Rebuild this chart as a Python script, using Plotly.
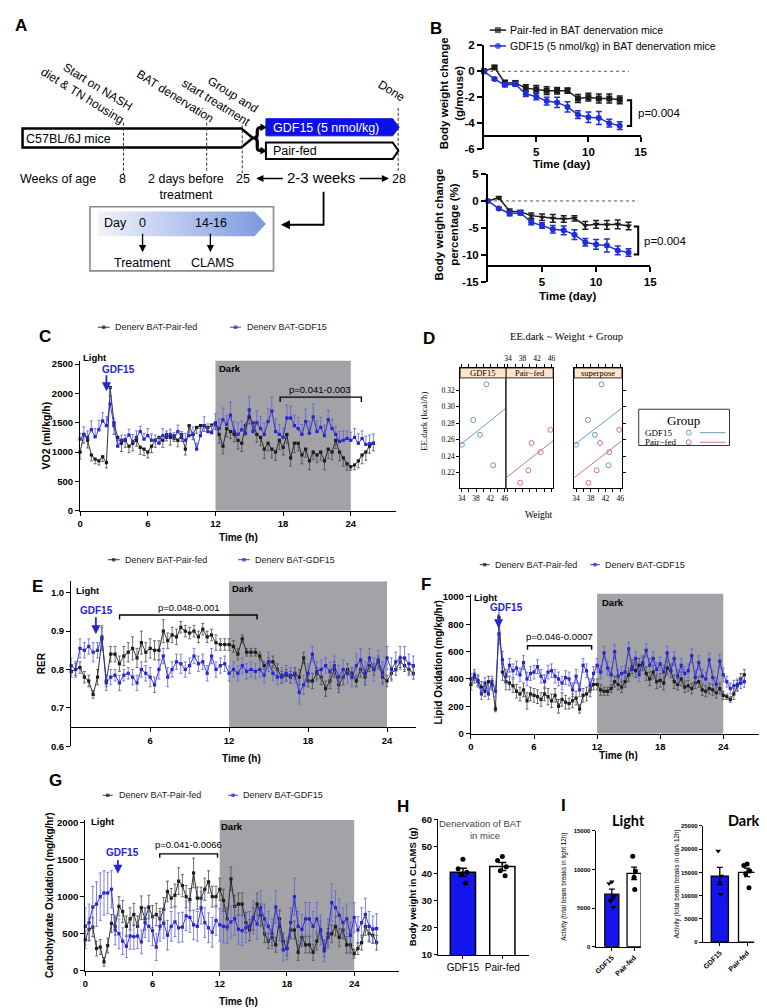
import numpy as np
import plotly.graph_objects as go

# ======================= DATA =======================
# Panel B: body weight change over days of treatment
B_DAYS = [0, 1, 2, 3, 4, 5, 6, 7, 8, 9, 10, 11, 12, 13]
BWG_PAIRFED = [0, 0.3, -0.9, -0.9, -1.3, -1.4, -1.5, -1.5, -1.5, -2.1, -2.0, -2.1, -2.1, -2.2]
BWG_PAIRFED_SEM = [0, 0.1, 0.2, 0.15, 0.25, 0.3, 0.3, 0.25, 0.2, 0.3, 0.3, 0.35, 0.35, 0.3]
BWG_GDF15 = [0, -0.6, -1.05, -1.0, -1.75, -1.95, -2.3, -2.4, -2.75, -3.35, -3.55, -3.6, -4.0, -4.2]
BWG_GDF15_SEM = [0, 0.1, 0.15, 0.15, 0.2, 0.25, 0.3, 0.4, 0.4, 0.3, 0.4, 0.5, 0.3, 0.3]
BWP_PAIRFED = [0, 0.6, -1.9, -2.0, -2.7, -3.0, -3.2, -3.3, -3.2, -4.5, -4.3, -4.4, -4.3, -4.6]
BWP_PAIRFED_SEM = [0, 0.2, 0.4, 0.3, 0.5, 0.6, 0.7, 0.6, 0.5, 0.7, 0.7, 0.8, 0.8, 0.7]
BWP_GDF15 = [0, -1.4, -2.3, -2.2, -3.9, -4.5, -5.2, -5.4, -6.2, -7.6, -8.0, -8.2, -9.1, -9.5]
BWP_GDF15_SEM = [0, 0.2, 0.4, 0.4, 0.5, 0.5, 0.7, 0.8, 0.9, 0.7, 0.9, 1.2, 0.8, 0.7]

# CLAMS recordings: one reading every 20 min, 0 .. 26 h
CLAMS_STEP_H = 1 / 3
CLAMS_N = 79
CLAMS_T = [i * CLAMS_STEP_H for i in range(CLAMS_N)]

# Panel C: VO2 (ml/kg/h)
VO2_PAIRFED = [
    1000, 1300, 1200, 950, 880, 850, 920, 820, 2100,
    1500, 1250, 1150, 1200, 1100, 1150, 1200, 1080, 1050,
    1000, 1100, 1200, 1250, 1200, 1300, 1250, 1280, 1200,
    1300, 1050, 1450, 1300, 1420, 1450, 1450, 1420, 1460,
    1500, 1300, 1100, 1400, 1350, 1300, 1200, 1150, 1450,
    1600, 1500, 1300, 1250, 1050, 1150, 1050, 1000, 1200,
    1080, 1300, 900, 1150, 1150, 950, 1050, 850, 1000,
    950, 1000, 850, 1050, 1000, 1200, 1000, 900, 800,
    750, 780, 850, 950, 1000, 1100, 1150]
VO2_PAIRFED_SEM = [
    120, 150, 130, 100, 80, 70, 80, 90, 150,
    200, 150, 140, 120, 110, 130, 100, 120, 110,
    100, 110, 120, 100, 120, 110, 130, 100, 110,
    120, 100, 110, 90, 100, 110, 100, 90, 100,
    120, 150, 130, 140, 120, 130, 150, 140, 160,
    120, 150, 130, 140, 160, 130, 150, 140, 160,
    130, 150, 140, 160, 130, 150, 140, 150, 130,
    130, 140, 150, 160, 130, 140, 150, 140, 110,
    60, 80, 120, 150, 140, 120, 130]
VO2_GDF15 = [
    1220, 1300, 1250, 1380, 1260, 1380, 1530, 1450, 1820,
    1450, 1100, 1200, 1210, 1290, 1180, 1250, 1350, 1220,
    1280, 1200, 1200, 1150, 1280, 1250, 1300, 1230, 1350,
    1250, 1200, 1280, 1300, 1050, 1280, 1450, 1350, 1330,
    1480, 1400, 1550, 1470, 1630, 1350, 1300, 1380, 1320,
    1720, 1350, 1500, 1400, 1300, 1520, 1700, 1350, 1300,
    1250, 1580, 1580, 1450, 1400, 1300, 1520, 1320, 1600,
    1350, 1420, 1280, 1550, 1400, 1300, 1180, 1200, 1230,
    1200, 1250, 1150, 1230, 1130, 1140, 1150]
VO2_GDF15_SEM = [
    100, 130, 110, 150, 140, 160, 140, 150, 280,
    120, 100, 90, 80, 100, 120, 110, 90, 100,
    120, 110, 90, 100, 120, 110, 90, 100, 110,
    100, 120, 110, 130, 100, 120, 150, 130, 120,
    170, 160, 200, 150, 220, 170, 200, 150, 180,
    230, 170, 200, 210, 190, 220, 240, 210, 170,
    160, 220, 200, 180, 190, 170, 210, 200, 220,
    190, 170, 180, 160, 150, 140, 170, 160, 130,
    140, 150, 160, 130, 140, 150, 160]

# Panel E: RER
RER_PAIRFED = [
    0.795, 0.800, 0.805, 0.780, 0.770, 0.735, 0.780, 0.880, 0.770,
    0.840, 0.840, 0.815, 0.835, 0.845, 0.855, 0.830, 0.870, 0.845,
    0.855, 0.850, 0.850, 0.900, 0.875, 0.890, 0.885, 0.910, 0.900,
    0.895, 0.900, 0.885, 0.905, 0.885, 0.890, 0.870, 0.865, 0.865,
    0.865, 0.860, 0.840, 0.880, 0.845, 0.845, 0.845, 0.835, 0.810,
    0.820, 0.820, 0.800, 0.780, 0.785, 0.780, 0.790, 0.780, 0.830,
    0.770, 0.770, 0.790, 0.780, 0.750, 0.770, 0.800, 0.760, 0.780,
    0.800, 0.790, 0.770, 0.800, 0.780, 0.810, 0.800, 0.820, 0.780,
    0.770, 0.790, 0.800, 0.820, 0.810, 0.800, 0.790]
RER_PAIRFED_SEM = [
    0.015, 0.015, 0.015, 0.015, 0.015, 0.010, 0.020, 0.030, 0.015,
    0.020, 0.020, 0.020, 0.025, 0.025, 0.030, 0.025, 0.030, 0.025,
    0.025, 0.025, 0.025, 0.030, 0.020, 0.020, 0.020, 0.015, 0.015,
    0.015, 0.015, 0.015, 0.015, 0.015, 0.015, 0.020, 0.015, 0.015,
    0.015, 0.015, 0.015, 0.010, 0.010, 0.010, 0.010, 0.010, 0.010,
    0.010, 0.015, 0.015, 0.015, 0.015, 0.015, 0.015, 0.020, 0.015,
    0.015, 0.020, 0.015, 0.020, 0.020, 0.020, 0.020, 0.020, 0.020,
    0.015, 0.015, 0.015, 0.020, 0.020, 0.015, 0.015, 0.015, 0.015,
    0.015, 0.015, 0.015, 0.015, 0.015, 0.015, 0.015]
RER_GDF15 = [
    0.810, 0.800, 0.855, 0.850, 0.860, 0.845, 0.850, 0.885, 0.765,
    0.780, 0.785, 0.765, 0.785, 0.790, 0.780, 0.765, 0.800, 0.790,
    0.780, 0.760, 0.800, 0.835, 0.780, 0.800, 0.820, 0.815, 0.800,
    0.810, 0.835, 0.815, 0.820, 0.790, 0.835, 0.800, 0.810, 0.815,
    0.790, 0.800, 0.790, 0.810, 0.795, 0.800, 0.795, 0.800, 0.785,
    0.820, 0.790, 0.780, 0.785, 0.790, 0.785, 0.785, 0.740, 0.760,
    0.790, 0.840, 0.795, 0.800, 0.810, 0.795, 0.810, 0.780, 0.800,
    0.790, 0.780, 0.810, 0.825, 0.790, 0.830, 0.800, 0.825, 0.790,
    0.830, 0.800, 0.820, 0.830, 0.830, 0.815, 0.810]
RER_GDF15_SEM = [
    0.020, 0.020, 0.025, 0.020, 0.020, 0.025, 0.020, 0.030, 0.020,
    0.020, 0.015, 0.020, 0.015, 0.015, 0.020, 0.020, 0.020, 0.020,
    0.025, 0.020, 0.025, 0.020, 0.025, 0.020, 0.020, 0.025, 0.020,
    0.020, 0.020, 0.020, 0.020, 0.020, 0.020, 0.020, 0.020, 0.020,
    0.020, 0.020, 0.020, 0.020, 0.020, 0.020, 0.020, 0.020, 0.020,
    0.025, 0.020, 0.020, 0.020, 0.020, 0.020, 0.020, 0.030, 0.025,
    0.025, 0.020, 0.025, 0.025, 0.020, 0.025, 0.025, 0.030, 0.025,
    0.025, 0.025, 0.030, 0.030, 0.030, 0.025, 0.030, 0.025, 0.030,
    0.030, 0.030, 0.025, 0.030, 0.030, 0.025, 0.025]

# Panel F: lipid oxidation (mg/kg/hr)
LIPID_PAIRFED = [
    360, 410, 390, 340, 310, 380, 360, 180, 850,
    450, 380, 370, 350, 310, 290, 320, 240, 290,
    280, 270, 250, 290, 270, 240, 280, 200, 250,
    230, 220, 240, 260, 180, 280, 290, 320, 360,
    360, 320, 310, 310, 330, 380, 360, 340, 380,
    430, 490, 460, 500, 510, 440, 400, 450, 380,
    390, 370, 480, 460, 380, 360, 400, 340, 350,
    330, 370, 380, 320, 310, 330, 320, 300, 330,
    280, 270, 250, 290, 350, 400, 430]
LIPID_PAIRFED_SEM = [
    40, 40, 40, 40, 40, 40, 40, 20, 60,
    60, 60, 50, 50, 50, 50, 50, 60, 50,
    50, 50, 50, 50, 60, 50, 50, 50, 50,
    50, 40, 50, 50, 30, 50, 50, 50, 40,
    40, 40, 30, 30, 30, 40, 40, 40, 40,
    50, 50, 50, 50, 50, 50, 50, 50, 50,
    50, 50, 50, 50, 50, 40, 50, 40, 40,
    40, 40, 40, 40, 40, 40, 40, 40, 40,
    30, 20, 20, 40, 40, 40, 40]
LIPID_GDF15 = [
    400, 430, 380, 290, 370, 290, 380, 310, 730,
    540, 420, 500, 460, 480, 430, 520, 400, 440,
    450, 490, 420, 380, 450, 460, 420, 400, 370,
    410, 400, 320, 420, 320, 500, 460, 350, 440,
    500, 450, 590, 480, 430, 600, 420, 440, 450,
    620, 470, 550, 430, 520, 610, 500, 550, 470,
    510, 450, 590, 460, 550, 420, 500, 440, 460,
    570, 410, 520, 420, 400, 540, 410, 360, 530,
    430, 380, 330, 350, 360, 370, 380]
LIPID_GDF15_SEM = [
    40, 40, 40, 40, 40, 40, 40, 40, 80,
    60, 50, 50, 50, 50, 50, 50, 50, 50,
    50, 50, 50, 50, 50, 50, 50, 50, 50,
    50, 50, 50, 50, 50, 50, 50, 50, 50,
    50, 50, 50, 50, 50, 50, 50, 50, 50,
    50, 50, 50, 50, 50, 50, 50, 50, 50,
    50, 50, 50, 50, 50, 50, 50, 50, 50,
    50, 50, 50, 50, 50, 50, 50, 50, 50,
    50, 40, 40, 40, 40, 40, 40]

# Panel G: carbohydrate oxidation (mg/kg/hr)
CARB_PAIRFED = [
    420, 560, 590, 300, 320, 120, 340, 640, 600,
    870, 800, 600, 700, 760, 600, 850, 700, 860,
    730, 760, 700, 830, 1070, 980, 1020, 1210, 1150,
    1000, 960, 1320, 980, 980, 1100, 1200, 1000, 1000,
    1100, 950, 700, 1240, 870, 900, 900, 650, 550,
    700, 900, 750, 500, 400, 450, 350, 700, 400,
    300, 550, 550, 250, 450, 350, 350, 250, 400,
    550, 300, 450, 500, 600, 450, 550, 350, 350,
    230, 300, 380, 600, 500, 480, 380]
CARB_PAIRFED_SEM = [
    120, 150, 130, 100, 100, 60, 100, 120, 120,
    130, 150, 140, 150, 150, 140, 160, 150, 160,
    150, 150, 140, 160, 140, 130, 150, 180, 150,
    150, 150, 200, 150, 150, 150, 150, 140, 140,
    150, 150, 150, 160, 150, 150, 150, 140, 140,
    150, 150, 150, 120, 100, 110, 100, 120, 110,
    100, 120, 120, 110, 120, 110, 110, 110, 120,
    120, 110, 120, 120, 130, 120, 120, 110, 110,
    60, 80, 100, 120, 110, 110, 100]
CARB_GDF15 = [
    600, 650, 860, 900, 1000, 1050, 1050, 1100, 550,
    500, 400, 330, 470, 460, 470, 390, 650, 600,
    540, 320, 600, 640, 480, 600, 660, 580, 590,
    740, 720, 620, 600, 850, 650, 580, 520, 680,
    620, 600, 590, 660, 700, 560, 540, 580, 600,
    720, 630, 850, 700, 600, 500, 860, 600, 280,
    300, 650, 1000, 600, 560, 700, 700, 600, 700,
    550, 270, 500, 920, 850, 750, 650, 700, 480,
    720, 550, 650, 760, 600, 560, 570]
CARB_GDF15_SEM = [
    250, 250, 280, 300, 320, 300, 280, 250, 200,
    200, 180, 150, 180, 170, 170, 160, 200, 200,
    200, 180, 200, 200, 200, 200, 200, 200, 200,
    200, 200, 200, 200, 220, 200, 200, 200, 200,
    220, 220, 220, 220, 220, 200, 200, 200, 200,
    220, 200, 230, 200, 200, 200, 220, 200, 150,
    150, 200, 250, 200, 200, 220, 220, 200, 220,
    200, 150, 200, 250, 230, 220, 200, 200, 180,
    200, 180, 200, 220, 200, 180, 200]

# Panel D: EE.dark vs body weight (lattice ANCOVA)
D_W_GDF15 = [34.0, 37.2, 39.1, 40.9, 42.8]
D_EE_GDF15 = [0.254, 0.284, 0.266, 0.327, 0.229]
D_W_PAIRFED = [37.35, 39.6, 40.5, 43.0, 45.7]
D_EE_PAIRFED = [0.208, 0.223, 0.256, 0.245, 0.272]

# Panels H, I: bar graphs (mean, SEM, individual mice)
GROUPS = ['GDF15', 'Pair-fed']
H_MEAN = [40.5, 42.6]
H_SEM = [1.5, 1.5]
H_DOTS_GDF15 = [45.3, 41.8, 40.5, 39.5, 36.5]
H_DOTS_PAIRFED = [46.3, 44.8, 42.5, 41.0, 39.2]
IL_MEAN = [6800, 9500]
IL_SEM = [650, 800]
IL_DOTS_GDF15 = [8400, 8200, 6500, 5900, 5100]
IL_DOTS_PAIRFED = [11700, 9800, 9000, 7400]
ID_MEAN = [14200, 15000]
ID_SEM = [1900, 900]
ID_DOTS_GDF15 = [19600, 14200, 12800, 10300]
ID_DOTS_PAIRFED = [16800, 16500, 15300, 14700, 11700]

# ======================= STYLE =======================
W, H = 767, 1008
SANS = "Arial, Liberation Sans, Helvetica, sans-serif"
SERIF = "Liberation Serif, Times New Roman, serif"
LATO = "Lato, Liberation Sans, sans-serif"
BLUE = '#2626cf'
BLUE_ERR = '#6060dc'
BLK = '#1c1c1c'
BLK_ERR = '#4a4a4a'
DARK = '#a3a3a7'
BAR_BLUE = '#1414ee'
B_BLUE = '#1f2fd6'
D_BLUE = '#5a8ebb'
D_PINK = '#bf6490'
STRIP = '#ffe5cc'
JIT5 = [0.0, -0.12, 0.1, -0.05, 0.07]
JIT4 = [-0.06, 0.06, 0.0, 0.03]


def fx(p):
    return p / W


def fy(p):
    return 1 - p / H


fig = go.Figure()
layout = dict(width=W, height=H, margin=dict(l=0, r=0, t=0, b=0, pad=0),
              paper_bgcolor='white', plot_bgcolor='rgba(0,0,0,0)', showlegend=False,
              font=dict(family=SANS, color='black', size=10))
# full-figure pixel overlay used for the diagram and annotations
layout['xaxis'] = dict(domain=[0, 1], range=[0, W], visible=False, fixedrange=True)
layout['yaxis'] = dict(domain=[0, 1], range=[H, 0], visible=False, fixedrange=True)
shapes, annots = [], []


def txt(x, y, text, size=10, color='black', bold=False, xa='center', ya='middle',
        angle=0, family=SANS, align='center'):
    annots.append(dict(x=x, y=y, xref='x', yref='y', text=text, showarrow=False,
                       xanchor=xa, yanchor=ya, textangle=angle, align=align,
                       font=dict(family=family, size=size, color=color,
                                 weight='bold' if bold else 'normal')))


def line(x0, y0, x1, y1, color='black', width=1.0, dash='solid'):
    shapes.append(dict(type='line', xref='x', yref='y', x0=x0, y0=y0, x1=x1, y1=y1,
                       line=dict(color=color, width=width, dash=dash), layer='above'))


def path(p, color='black', width=1.0, fill=None):
    d = dict(type='path', xref='x', yref='y', path=p,
             line=dict(color=color, width=width), layer='above')
    if fill:
        d['fillcolor'] = fill
    shapes.append(d)


def arrow(hx, hy, tx, ty, color='black', width=1.2, size=1.0, head=2):
    annots.append(dict(x=hx, y=hy, ax=tx, ay=ty, xref='x', yref='y', axref='x', ayref='y',
                       showarrow=True, arrowhead=head, arrowsize=size, arrowwidth=width,
                       arrowcolor=color, text=''))


def tfont(size, bold=True, family=SANS):
    return dict(family=family, size=size, color='black', weight='bold' if bold else 'normal')


def prism(n, x0, x1, ytop, ybot, xr, yr, xt, yt, xpos=None, fs=9.5, lw=1.4, tl=4,
          xtt=None, ytt=None, xfs=None, xbold=True, xangle=None, yfs=None, xticks='outside'):
    xa = dict(domain=[fx(x0), fx(x1)], range=xr, tickmode='array', tickvals=xt,
              ticks=xticks, ticklen=tl, tickwidth=lw, tickcolor='black', showline=True,
              linewidth=lw, linecolor='black', showgrid=False, zeroline=False,
              fixedrange=True, tickfont=tfont(xfs or fs, xbold))
    if xtt is not None:
        xa['ticktext'] = xtt
    if xangle is not None:
        xa['tickangle'] = xangle
    if xpos is None:
        xa['anchor'] = 'y%d' % n
    else:
        xa.update(anchor='free', position=fy(xpos))
    ya = dict(domain=[fy(ybot), fy(ytop)], range=yr, tickmode='array', tickvals=yt,
              ticktext=ytt if ytt is not None else [str(v) for v in yt],
              ticks='outside', ticklen=tl, tickwidth=lw, tickcolor='black', showline=True,
              linewidth=lw, linecolor='black', showgrid=False, zeroline=False,
              fixedrange=True, anchor='x%d' % n, tickfont=tfont(yfs or fs, True))
    layout['xaxis%d' % n] = xa
    layout['yaxis%d' % n] = ya


def series(n, t, y, err, color, ecolor, emode='both', msize=3.2, symbol='square',
           lw=0.9, ethick=0.8, ewidth=1.5):
    z = [0] * len(err)
    if emode == 'up':
        e = dict(type='data', symmetric=False, array=err, arrayminus=z)
    elif emode == 'down':
        e = dict(type='data', symmetric=False, array=z, arrayminus=err)
    else:
        e = dict(type='data', array=err)
    e.update(color=ecolor, thickness=ethick, width=ewidth)
    fig.add_trace(go.Scatter(x=t, y=y, mode='lines+markers',
                             line=dict(color=color, width=lw),
                             marker=dict(symbol=symbol, size=msize, color=color,
                                         line=dict(width=0)),
                             error_y=e, xaxis='x%d' % n, yaxis='y%d' % n,
                             cliponaxis=False, hoverinfo='skip'))


def glyph(x0, x1, y, color, symbol='square', msize=3.5, lw=0.9):
    fig.add_trace(go.Scatter(x=[x0, (x0 + x1) / 2, x1], y=[y, y, y], mode='lines+markers',
                             line=dict(color=color, width=lw),
                             marker=dict(symbol=symbol, size=[0, msize, 0], color=color,
                                         line=dict(width=0)),
                             xaxis='x', yaxis='y', hoverinfo='skip'))


def dark_rect(n, y0, y1):
    shapes.append(dict(type='rect', xref='x%d' % n, yref='y%d' % n, x0=12, x1=24,
                       y0=y0, y1=y1, fillcolor=DARK, line=dict(width=0), layer='below'))


def bracket_h(x0, x1, y, drop, color='black', width=1.4):
    path('M %.1f,%.1f L %.1f,%.1f L %.1f,%.1f L %.1f,%.1f' %
         (x0, y + drop, x0, y, x1, y, x1, y + drop), color=color, width=width)


# ======================= PANEL A (diagram) =======================
txt(10, 12, 'A', 17, bold=True)
path('M 11.7,116 L 233.3,116 L 245,125.5 L 233.3,135 L 11.7,135 Z', width=2.5, fill='white')
path('M 258.3,106 L 386.7,106 L 393.3,114.7 L 386.7,123.3 L 258.3,123.3 Z',
     color='#0a10e6', width=1, fill='#0a10e6')
path('M 258.3,130 L 386.7,130 L 392.5,138.3 L 386.7,146.7 L 258.3,146.7 Z',
     width=2, fill='white')
path('M 255,114.7 C 250,114.7 249.5,116 249.5,119 L 249.5,122 C 249.5,124.5 248,125.5 245.5,125.5 '
     'C 248,125.5 249.5,126.5 249.5,129 L 249.5,135 C 249.5,137.5 250,138.3 255,138.3',
     width=3.2)
path('M 253,111.2 L 258.8,114.7 L 253,118.2 Z', width=0.5, fill='black')
path('M 253,134.8 L 258.8,138.3 L 253,141.8 Z', width=0.5, fill='black')
for xx, ya_, yb_ in [(114, 110, 163), (198.3, 110, 160), (234.3, 112.7, 161.7), (392.3, 95, 160)]:
    line(xx, ya_, xx, yb_, color='#333333', width=1, dash='3px,2px')
txt(13.5, 126.7, 'C57BL/6J mice', 12.5, xa='left')
txt(263, 115, 'GDF15 (5 nmol/kg)', 12.5, color='white', xa='left')
txt(263, 138.5, 'Pair-fed', 12.5, xa='left')
txt(76, 76, 'Start on NASH<br>diet &amp; TN housing', 12, angle=32, align='right')
txt(165.7, 83.3, 'BAT denervation', 12, angle=32)
txt(211.7, 83.3, 'Group and<br>start treatment', 12, angle=32, align='right')
txt(385.7, 78, 'Done', 12, angle=32)
txt(6.7, 166.7, 'Weeks of age', 12.5, xa='left')
txt(113.3, 167, '8', 12.5)
txt(177.5, 175.5, '2 days before<br>treatment', 12.5)
txt(235, 167, '25', 12.5)
txt(314.3, 165.5, '2-3 weeks', 15)
txt(393.3, 167, '28', 12.5)
arrow(248.5, 166.5, 277, 166.5, width=1.3, size=1.1)
arrow(383, 166.5, 351.7, 166.5, width=1.3, size=1.1)
path('M 316.7,180 L 316.7,213.3 L 282,213.3', width=1.8)
arrow(273.5, 213.3, 285, 213.3, width=1.8, size=1.0)
shapes.append(dict(type='rect', xref='x', yref='y', x0=80, x1=266, y0=195, y1=260,
                   line=dict(color='#8a8a8a', width=1.6), layer='above'))
fig.add_trace(go.Scatter(x=[88.3, 246.7, 258.3, 246.7, 88.3, 88.3],
                         y=[200, 200, 212.5, 225, 225, 200], mode='lines', fill='toself',
                         fillgradient=dict(type='horizontal',
                                           colorscale=[[0, '#f1f3fc'], [1, '#7b98e0']]),
                         line=dict(width=0, color='rgba(0,0,0,0)'),
                         xaxis='x', yaxis='y', hoverinfo='skip'))
txt(91.7, 212, 'Day', 12.5, xa='left')
txt(133.3, 212, '0', 12.5)
txt(203, 212, '14-16', 12.5)
arrow(133.3, 241, 133.3, 221, width=1.3, size=1.1)
arrow(202, 241, 202, 221, width=1.3, size=1.1)
txt(133, 251.7, 'Treatment', 12.5)
txt(204, 251.7, 'CLAMS', 12.5)

# ======================= PANEL B =======================
txt(431, 15, 'B', 17, bold=True)
prism(2, 479.3, 637.9, 31.7, 136.7, [0, 15], [-6, 2], [5, 10, 15], [2, 0, -2, -4, -6],
      xpos=123.6, fs=11.5, lw=2, tl=5)
prism(3, 483.3, 647.6, 161.7, 271.7, [0, 15], [-15, 5], [5, 10, 15], [5, 0, -5, -10, -15],
      xpos=255.2, fs=11.5, lw=2, tl=5)
for n in (2, 3):
    shapes.append(dict(type='line', xref='x%d' % n, yref='y%d' % n, x0=0, x1=13.9, y0=0, y1=0,
                       line=dict(color='#555555', width=1, dash='dot'), layer='below'))
series(2, B_DAYS, BWG_PAIRFED, BWG_PAIRFED_SEM, BLK, BLK, msize=6, lw=1.5, ethick=1.5, ewidth=3)
series(2, B_DAYS, BWG_GDF15, BWG_GDF15_SEM, B_BLUE, B_BLUE, symbol='circle', msize=6, lw=1.5,
       ethick=1.5, ewidth=3)
series(3, B_DAYS, BWP_PAIRFED, BWP_PAIRFED_SEM, BLK, BLK, msize=6, lw=1.5, ethick=1.5,
       ewidth=3, symbol='triangle-down')
series(3, B_DAYS, BWP_GDF15, BWP_GDF15_SEM, B_BLUE, B_BLUE, symbol='circle', msize=6, lw=1.5,
       ethick=1.5, ewidth=3)
glyph(485, 501.7, 16.3, BLK, 'square', 6, 1.5)
txt(504, 16.3, 'Pair-fed in BAT denervation mice', 10.5, xa='left')
glyph(485, 501.7, 32.3, B_BLUE, 'circle', 6, 1.5)
txt(504, 32.3, 'GDF15 (5 nmol/kg) in BAT denervation mice', 10.5, xa='left')
path('M 624,87.3 L 628.3,87.3 L 628.3,113.3 L 624,113.3', width=2)
txt(633, 100, 'p=0.004', 11.5, xa='left')
path('M 631,215 L 635.5,215 L 635.5,243.3 L 631,243.3', width=2)
txt(639, 229.3, 'p=0.004', 11.5, xa='left')
txt(446, 80, 'Body weight change<br>(g/mouse)', 11.5, bold=True, angle=-90)
txt(558, 151.7, 'Time (day)', 11.5, bold=True)
txt(441.5, 213.3, 'Body weight change<br>percentage (%)', 11.5, bold=True, angle=-90)
txt(564, 285, 'Time (day)', 11.5, bold=True)

# ======================= PANEL C =======================
txt(34, 326.7, 'C', 17, bold=True)
prism(4, 70, 390, 350.7, 502.7, [0, 28], [0, 2560], [0, 6, 12, 18, 24],
      [0, 500, 1000, 1500, 2000, 2500])
dark_rect(4, 0, 2560)
series(4, CLAMS_T, VO2_PAIRFED, VO2_PAIRFED_SEM, BLK, BLK_ERR, emode='down')
series(4, CLAMS_T, VO2_GDF15, VO2_GDF15_SEM, BLUE, BLUE_ERR, emode='up')
glyph(88, 100, 317, BLK)
txt(103, 317, 'Denerv BAT-Pair-fed', 9, color='#222222', xa='left')
glyph(222, 233, 317, BLUE)
txt(237, 317, 'Denerv BAT-GDF15', 9, color='#222222', xa='left')
txt(85, 347.3, 'Light', 9.5, bold=True)
txt(221.5, 359, 'Dark', 9.5, bold=True)
txt(109, 359.3, 'GDF15', 10, bold=True, color=BLUE)
arrow(96.7, 381.7, 96.7, 364, color=BLUE, width=1.8, size=1.0)
bracket_h(272.7, 355, 387.7, 5)
txt(313.3, 380, 'p=0.041-0.003', 9.5)
txt(35, 427, 'VO2 (ml/kg/h)', 10.5, bold=True, angle=-90)
txt(230, 530, 'Time (h)', 10, bold=True)

# ======================= PANEL D (lattice) =======================
txt(424, 328, 'D', 17, bold=True)
XR_D = [33.5, 46.45]
YR_D = [0.2013, 0.3467]
XT_D = [34, 36, 38, 40, 42, 44, 46]
XTT_D = ['34', '', '38', '', '42', '', '46']
YT_D = [0.22, 0.24, 0.26, 0.28, 0.30, 0.32]
YTT_D = ['0.22', '0.24', '0.26', '0.28', '0.30', '0.32']
for n, x0, x1, xside, ylab, yside, yticks in [
        (5, 455, 501.7, 'bottom', True, 'left', 'outside'),
        (6, 501.7, 549.3, 'top', False, 'left', ''),
        (7, 570.7, 619, 'bottom', False, 'right', 'outside')]:
    layout['xaxis%d' % n] = dict(domain=[fx(x0), fx(x1)], range=XR_D, anchor='y%d' % n,
                                 side=xside, mirror='ticks', tickmode='array', tickvals=XT_D,
                                 ticktext=XTT_D, ticks='outside', ticklen=3, tickwidth=0.8,
                                 tickcolor='black', showline=True, linewidth=0.8,
                                 linecolor='black', showgrid=False, zeroline=False,
                                 fixedrange=True, tickfont=tfont(7.5, False, SERIF))
    layout['yaxis%d' % n] = dict(domain=[fy(480), fy(358.3)], range=YR_D, anchor='x%d' % n,
                                 side=yside, mirror=True, tickmode='array', tickvals=YT_D,
                                 ticktext=YTT_D, ticks=yticks, ticklen=3, tickwidth=0.8,
                                 tickcolor='black', showticklabels=ylab, showline=True,
                                 linewidth=0.8, linecolor='black', showgrid=False,
                                 zeroline=False, fixedrange=True,
                                 tickfont=tfont(7.5, False, SERIF))
for sx0, sx1, label in [(455, 501.7, 'GDF15'), (501.7, 549.3, 'Pair\u2212fed'),
                        (570.7, 619, 'superpose')]:
    shapes.append(dict(type='rect', xref='x', yref='y', x0=sx0, x1=sx1, y0=358.3, y1=368.3,
                       fillcolor=STRIP, line=dict(color='black', width=0.8), layer='above'))
    txt((sx0 + sx1) / 2, 363.6, label, 8.5, family=SERIF)
line(501.7, 368.3, 501.7, 480, color='#777777', width=1.4)
# common-slope regression (EE.dark ~ Weight + Group)
w_all = np.array(D_W_GDF15 + D_W_PAIRFED)
ee_all = np.array(D_EE_GDF15 + D_EE_PAIRFED)
is_g = np.array([1.0] * len(D_W_GDF15) + [0.0] * len(D_W_PAIRFED))
Xd = np.column_stack([w_all, is_g, 1 - is_g])
coef, *_ = np.linalg.lstsq(Xd, ee_all, rcond=None)
slope, int_g, int_p = coef
xl = np.array(XR_D)
fit_g = int_g + slope * xl
fit_p = int_p + slope * xl


def d_points(n, wv, ev, color):
    fig.add_trace(go.Scatter(x=wv, y=ev, mode='markers',
                             marker=dict(symbol='circle-open', size=5, color=color,
                                         line=dict(width=0.9, color=color)),
                             xaxis='x%d' % n, yaxis='y%d' % n, hoverinfo='skip'))


def d_line(n, yv, color):
    fig.add_trace(go.Scatter(x=xl, y=yv, mode='lines', line=dict(color=color, width=0.9),
                             xaxis='x%d' % n, yaxis='y%d' % n, hoverinfo='skip'))


d_points(5, D_W_GDF15, D_EE_GDF15, D_BLUE)
d_line(5, fit_g, D_BLUE)
d_points(6, D_W_PAIRFED, D_EE_PAIRFED, D_PINK)
d_line(6, fit_p, D_PINK)
d_points(7, D_W_GDF15, D_EE_GDF15, D_BLUE)
d_points(7, D_W_PAIRFED, D_EE_PAIRFED, D_PINK)
d_line(7, fit_g, D_BLUE)
d_line(7, fit_p, D_PINK)
txt(563.3, 326.7, 'EE.dark ~ Weight + Group', 10.5, family=SERIF)
txt(535, 507, 'Weight', 9.5, family=SERIF)
txt(418.3, 412, 'EE.dark (kcal/h)', 9, family=SERIF, angle=-90)
shapes.append(dict(type='rect', xref='x', yref='y', x0=636, x1=728, y0=400, y1=436.7,
                   line=dict(color='black', width=0.8), layer='above'))
txt(681.7, 411, 'Group', 13, family=SERIF)
txt(640.7, 423.7, 'GDF15', 9, family=SERIF, xa='left')
txt(640.7, 433.4, 'Pair\u2212fed', 9, family=SERIF, xa='left')
fig.add_trace(go.Scatter(x=[686.7, 686.7], y=[423.7, 433.4], mode='markers',
                         marker=dict(symbol='circle-open', size=5, color=[D_BLUE, D_PINK],
                                     line=dict(width=0.9, color=[D_BLUE, D_PINK])),
                         xaxis='x', yaxis='y', hoverinfo='skip'))
line(698, 423.7, 724, 423.7, color=D_BLUE, width=0.9)
line(698, 433.4, 724, 433.4, color=D_PINK, width=0.9)

# ======================= PANEL E =======================
txt(26.7, 579, 'E', 17, bold=True)
prism(8, 61, 410.3, 574.1, 741, [0, 26.2], [0.6, 1.03], [6, 12, 18, 24],
      [0.6, 0.7, 0.8, 0.9, 1.0], xpos=721.6, ytt=['0.6', '0.7', '0.8', '0.9', '1.0'])
dark_rect(8, 0.65, 1.03)
series(8, CLAMS_T, RER_PAIRFED, RER_PAIRFED_SEM, BLK, BLK_ERR)
series(8, CLAMS_T, RER_GDF15, RER_GDF15_SEM, BLUE, BLUE_ERR)
glyph(98, 110, 552.3, BLK)
txt(113, 552.3, 'Denerv BAT-Pair-fed', 9, color='#222222', xa='left')
glyph(230, 242, 552.3, BLUE)
txt(245, 552.3, 'Denerv BAT-GDF15', 9, color='#222222', xa='left')
txt(78.5, 583, 'Light', 9.5, bold=True)
txt(234.7, 581.7, 'Dark', 9.5, bold=True)
txt(86.7, 604, 'GDF15', 10, bold=True, color=BLUE)
arrow(86, 627.7, 86, 609, color=BLUE, width=1.8, size=1.0)
bracket_h(110, 249.3, 608.3, 4.5)
txt(180, 600.7, 'p=0.048-0.001', 9.5)
txt(31.7, 656.7, 'RER', 10, bold=True, angle=-90)
txt(233.5, 753, 'Time (h)', 10, bold=True)

# ======================= PANEL F =======================
txt(420, 577.5, 'F', 17, bold=True)
prism(9, 466, 764.3, 586.5, 728.3, [0, 28], [0, 1025], [0, 6, 12, 18, 24],
      [0, 200, 400, 600, 800, 1000])
dark_rect(9, 0, 1025)
series(9, CLAMS_T, LIPID_PAIRFED, LIPID_PAIRFED_SEM, BLK, BLK_ERR)
series(9, CLAMS_T, LIPID_GDF15, LIPID_GDF15_SEM, BLUE, BLUE_ERR)
glyph(475, 485, 557.3, BLK)
txt(488, 557.3, 'Denerv BAT-Pair-fed', 9, color='#222222', xa='left')
glyph(586.7, 596.7, 557.3, BLUE)
txt(600, 557.3, 'Denerv BAT-GDF15', 9, color='#222222', xa='left')
txt(481.7, 590.7, 'Light', 9.5, bold=True)
txt(609.5, 595.7, 'Dark', 9.5, bold=True)
txt(502.5, 601, 'GDF15', 10, bold=True, color=BLUE)
arrow(494, 621.7, 494, 606, color=BLUE, width=1.8, size=1.0)
bracket_h(523.3, 588.3, 639.3, 4)
txt(556, 630, 'p=0.046-0.0007', 9.5)
txt(433.3, 656.7, 'Lipid Oxidation (mg/kg/hr)', 10, bold=True, angle=-90)
txt(616, 750, 'Time (h)', 10, bold=True)

# ======================= PANEL G =======================
txt(45, 776, 'G', 17, bold=True)
prism(10, 75.3, 393.1, 815.7, 968.3, [0, 28], [0, 2035], [0, 6, 12, 18, 24],
      [0, 500, 1000, 1500, 2000])
dark_rect(10, 0, 2035)
series(10, CLAMS_T, CARB_PAIRFED, CARB_PAIRFED_SEM, BLK, BLK_ERR)
series(10, CLAMS_T, CARB_GDF15, CARB_GDF15_SEM, BLUE, BLUE_ERR)
glyph(93, 103, 790.7, BLK)
txt(107, 790.7, 'Denerv BAT-Pair-fed', 9, color='#222222', xa='left')
glyph(220, 230, 790.7, BLUE)
txt(233, 790.7, 'Denerv BAT-GDF15', 9, color='#222222', xa='left')
txt(93, 817.7, 'Light', 9.5, bold=True)
txt(224, 822.7, 'Dark', 9.5, bold=True)
txt(113.3, 849, 'GDF15', 10, bold=True, color=BLUE)
arrow(108.3, 870, 108.3, 855, color=BLUE, width=1.8, size=1.0)
bracket_h(150.7, 209.3, 850, 4)
txt(180, 841, 'p=0.041-0.0066', 9.5)
txt(38.3, 891.7, 'Carbohydrate Oxidation (mg/kg/hr)', 10, bold=True, angle=-90)
txt(231, 999, 'Time (h)', 10, bold=True)

# ======================= PANEL H =======================
txt(397, 802, 'H', 17, bold=True)
prism(11, 432.7, 525, 815, 952.3, [-0.63, 1.68], [10, 60], [0, 1], [10, 20, 30, 40, 50, 60],
      xtt=GROUPS, xfs=10, xbold=False, tl=3)
fig.add_trace(go.Bar(x=[0, 1], y=H_MEAN, width=0.64,
                     marker=dict(color=[BAR_BLUE, 'white'], line=dict(color='black', width=1.5)),
                     error_y=dict(type='data', array=H_SEM, color='black', thickness=1.5, width=4),
                     xaxis='x11', yaxis='y11', hoverinfo='skip'))
fig.add_trace(go.Scatter(x=[0 + j for j in JIT5], y=H_DOTS_GDF15, mode='markers',
                         marker=dict(color='black', size=5), xaxis='x11', yaxis='y11'))
fig.add_trace(go.Scatter(x=[1 + j for j in JIT5], y=H_DOTS_PAIRFED, mode='markers',
                         marker=dict(color='black', size=5), xaxis='x11', yaxis='y11'))
txt(475, 819.3, 'Denervation of BAT', 9.5, color='#444444')
txt(480, 831, 'in mice', 9.5, color='#444444')
txt(407.5, 883.5, 'Body weight in CLAMS (g)', 9.5, bold=True, angle=-90)

# ======================= PANEL I =======================
txt(560, 801, 'I', 17, bold=True)
prism(12, 592.3, 638.3, 826.7, 944, [-0.73, 1.31], [0, 15000], [0, 1],
      [0, 5000, 10000, 15000], xtt=GROUPS, fs=6, xfs=7, xangle=-45, lw=1.1, tl=3)
prism(13, 701, 753.3, 821.7, 939.3, [-0.62, 1.27], [0, 25000], [0, 1],
      [0, 5000, 10000, 15000, 20000, 25000], xtt=GROUPS, fs=6, xfs=7, xangle=-45,
      lw=1.1, tl=3)
for n, mean, sem, dg, dp, jg, jp in [(12, IL_MEAN, IL_SEM, IL_DOTS_GDF15, IL_DOTS_PAIRFED, JIT5, JIT4),
                                     (13, ID_MEAN, ID_SEM, ID_DOTS_GDF15, ID_DOTS_PAIRFED, JIT4, JIT5)]:
    fig.add_trace(go.Bar(x=[0, 1], y=mean, width=0.63,
                         marker=dict(color=[BAR_BLUE, 'white'], line=dict(color='black', width=1.3)),
                         error_y=dict(type='data', array=sem, color='black', thickness=1.3, width=3),
                         xaxis='x%d' % n, yaxis='y%d' % n, hoverinfo='skip'))
    fig.add_trace(go.Scatter(x=[0 + j for j in jg[:len(dg)]], y=dg, mode='markers',
                             marker=dict(color='black', size=5, symbol='triangle-down'),
                             xaxis='x%d' % n, yaxis='y%d' % n))
    fig.add_trace(go.Scatter(x=[1 + j for j in jp[:len(dp)]], y=dp, mode='markers',
                             marker=dict(color='black', size=5),
                             xaxis='x%d' % n, yaxis='y%d' % n))
txt(625.5, 816, 'Light', 14.5, bold=True, family=LATO)
txt(743, 816, 'Dark', 14.5, bold=True, family=LATO)
txt(560.5, 883, 'Activity (total beam breaks in light 12h)', 6.3, angle=-90)
txt(674.5, 880, 'Activity (total beam breaks in dark 12h)', 6.3, angle=-90)

layout['shapes'] = shapes
layout['annotations'] = annots
fig.update_layout(**layout)
fig.write_html('out.html')
